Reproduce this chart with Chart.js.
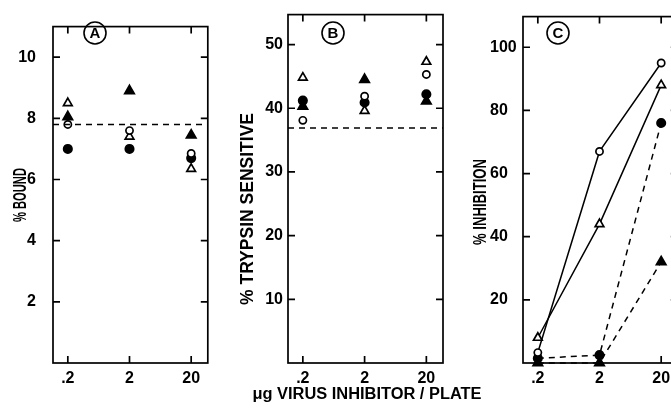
<!DOCTYPE html>
<html><head><meta charset="utf-8">
<script src="https://cdn.jsdelivr.net/npm/chart.js@4"></script>
<style>
html,body{margin:0;padding:0;background:#fff;width:671px;height:413px;overflow:hidden;position:relative}
.p{position:absolute;top:0;height:413px}
</style></head><body>
<div class="p" style="left:0;width:215px"><canvas id="ca"></canvas></div>
<div class="p" style="left:225px;width:260px"><canvas id="cb"></canvas></div>
<div class="p" style="left:440px;width:245px"><canvas id="cc"></canvas></div>
<script>
// ---- data ----
const doses = [0.2, 2, 20];
const doseLabels = ['.2', '2', '20'];
const xTitle = 'μg VIRUS INHIBITOR / PLATE';

// Panel A: % bound
const boundOpenCircle     = [7.8, 7.6, 6.85];
const boundOpenTriangle   = [8.5, 7.4, 6.35];
const boundFilledCircle   = [7.0, 7.0, 6.7];
const boundFilledTriangle = [8.05, 8.9, 7.45];
const boundControl = 7.8;
const boundTicks = [2, 4, 6, 8, 10];

// Panel B: % trypsin sensitive
const trypsinOpenCircle     = [38.1, 41.9, 45.3];
const trypsinOpenTriangle   = [44.8, 39.6, 47.3];
const trypsinFilledCircle   = [41.2, 40.9, 42.2];
const trypsinFilledTriangle = [40.3, 44.5, 41.1];
const trypsinControl = 36.9;
const trypsinTicks = [10, 20, 30, 40, 50];

// Panel C: % inhibition
const inhibOpenCircle     = [3.3, 67, 95];
const inhibOpenTriangle   = [8, 44, 88];
const inhibFilledCircle   = [1.5, 2.5, 76];
const inhibFilledTriangle = [0, 0, 32];
const inhibTicks = [20, 40, 60, 80, 100];

// ---- styling / helpers ----
const X_MIN = 0.115, X_MAX = 37.2;
const FONT = '"Liberation Sans", Arial, sans-serif';
const marker = {
  oc: {pointStyle: 'circle', pointRadius: 3.6, pointBackgroundColor: '#fff'},
  ot: {pointStyle: 'triangle', pointRadius: 5, pointBackgroundColor: '#fff'},
  fc: {pointStyle: 'circle', pointRadius: 4.2, pointBackgroundColor: '#000'},
  ft: {pointStyle: 'triangle', pointRadius: 5.5, pointBackgroundColor: '#000'}
};
function pts(arr) { return doses.map((d, i) => ({x: d, y: arr[i]})); }
function series(arr, m, line, dash) {
  return Object.assign({
    data: pts(arr), showLine: line, borderColor: '#000', pointBorderColor: '#000',
    pointBorderWidth: 1.7, borderWidth: 1.5, borderDash: dash ? [6, 5] : [],
    clip: false, pointHoverRadius: 5
  }, marker[m]);
}
function control(v) {
  return {type: 'line', data: [{x: X_MIN, y: v}, {x: X_MAX, y: v}], borderColor: '#000',
    borderWidth: 1.5, borderDash: [6, 5], pointRadius: 0, clip: false};
}

const framePlugin = {
  id: 'frame',
  beforeDatasetsDraw(chart) {
    const {ctx, chartArea: a, scales} = chart;
    ctx.save();
    ctx.strokeStyle = '#000'; ctx.lineWidth = 1.7;
    ctx.strokeRect(a.left, a.top, a.right - a.left, a.bottom - a.top);
    const L = 7;
    ctx.beginPath();
    scales.y.ticks.forEach(t => {
      const y = scales.y.getPixelForValue(t.value);
      ctx.moveTo(a.left, y); ctx.lineTo(a.left + L, y);
      ctx.moveTo(a.right, y); ctx.lineTo(a.right - L, y);
    });
    scales.x.ticks.forEach(t => {
      const x = scales.x.getPixelForValue(t.value);
      ctx.moveTo(x, a.bottom); ctx.lineTo(x, a.bottom - L);
      ctx.moveTo(x, a.top); ctx.lineTo(x, a.top + L);
    });
    ctx.stroke();
    ctx.restore();
  }
};
function fitText(ctx, text, x, y, len, rot) {
  ctx.save();
  ctx.translate(x, y);
  if (rot) ctx.rotate(-Math.PI / 2);
  const w = ctx.measureText(text).width;
  ctx.scale(len / w, 1);
  ctx.fillText(text, 0, 0);
  ctx.restore();
}
const textPlugin = {
  id: 'panelText',
  afterDraw(chart, args, o) {
    const ctx = chart.ctx;
    ctx.save();
    ctx.fillStyle = '#000'; ctx.strokeStyle = '#000'; ctx.lineWidth = 1.6;
    ctx.beginPath(); ctx.arc(o.letterX, o.letterY, 11, 0, Math.PI * 2); ctx.stroke();
    ctx.font = 'bold 15px ' + FONT;
    ctx.textAlign = 'center'; ctx.textBaseline = 'middle';
    ctx.fillText(o.letter, o.letterX, o.letterY + 1);
    ctx.font = 'bold 18px ' + FONT;
    fitText(ctx, o.title, o.titleX, o.titleY, o.titleLen, true);
    if (o.xTitle) {
      ctx.font = 'bold 16px ' + FONT;
      fitText(ctx, o.xTitle, o.xTitleX, o.xTitleY, o.xTitleLen, false);
    }
    ctx.restore();
  }
};

function makeChart(id, p) {
  return new Chart(document.getElementById(id), {
    type: 'scatter',
    data: {datasets: p.datasets},
    plugins: [framePlugin, textPlugin],
    options: {
      responsive: true, maintainAspectRatio: false, animation: false,
      layout: {padding: p.padding},
      plugins: {legend: {display: false}, tooltip: {enabled: false}, panelText: p.text},
      scales: {
        x: {
          type: 'logarithmic', min: X_MIN, max: X_MAX,
          afterBuildTicks: s => { s.ticks = doses.map(v => ({value: v})); },
          afterFit: s => { s.height = 50; },
          grid: {display: false, drawTicks: false}, border: {display: false},
          ticks: {autoSkip: false, maxRotation: 0, padding: 6, color: '#000',
            font: {family: FONT, size: 16, weight: 'bold'}, callback: (v, i) => doseLabels[i]}
        },
        y: {
          min: p.yMin, max: p.yMax,
          afterBuildTicks: s => { s.ticks = p.ticks.map(v => ({value: v})); },
          afterFit: s => { s.width = p.yWidth; },
          grid: {display: false, drawTicks: false}, border: {display: false},
          ticks: {padding: p.tickPad, crossAlign: p.crossAlign || 'near', color: '#000',
            font: {family: FONT, size: 16, weight: 'bold'}}
        }
      }
    }
  });
}

makeChart('ca', {
  datasets: [control(boundControl),
    series(boundOpenCircle, 'oc'), series(boundOpenTriangle, 'ot'),
    series(boundFilledCircle, 'fc'), series(boundFilledTriangle, 'ft')],
  padding: {top: 10, right: 5, left: 0, bottom: 0},
  yMin: 0, yMax: 11, ticks: boundTicks, yWidth: 53, tickPad: 17,
  text: {letter: 'A', letterX: 95, letterY: 33, title: '% BOUND', titleX: 21, titleY: 195, titleLen: 54}
});
makeChart('cb', {
  datasets: [control(trypsinControl),
    series(trypsinOpenCircle, 'oc'), series(trypsinOpenTriangle, 'ot'),
    series(trypsinFilledCircle, 'fc'), series(trypsinFilledTriangle, 'ft')],
  padding: {top: 12, right: 42, left: 0, bottom: 0},
  yMin: 0, yMax: 54.7, ticks: trypsinTicks, yWidth: 63, tickPad: 5,
  text: {letter: 'B', letterX: 108, letterY: 33, title: '% TRYPSIN SENSITIVE', titleX: 23, titleY: 209, titleLen: 192,
    xTitle: xTitle, xTitleX: 142, xTitleY: 395, xTitleLen: 229}
});
makeChart('cc', {
  datasets: [
    series(inhibOpenCircle, 'oc', true), series(inhibOpenTriangle, 'ot', true),
    series(inhibFilledCircle, 'fc', true, true), series(inhibFilledTriangle, 'ft', true, true)],
  padding: {top: 12, right: 5, left: 50, bottom: 0},
  yMin: 0, yMax: 109.7, ticks: inhibTicks, yWidth: 33, tickPad: 7, crossAlign: 'far',
  text: {letter: 'C', letterX: 118, letterY: 33, title: '% INHIBITION', titleX: 41, titleY: 202, titleLen: 86}
});
</script>
</body></html>
